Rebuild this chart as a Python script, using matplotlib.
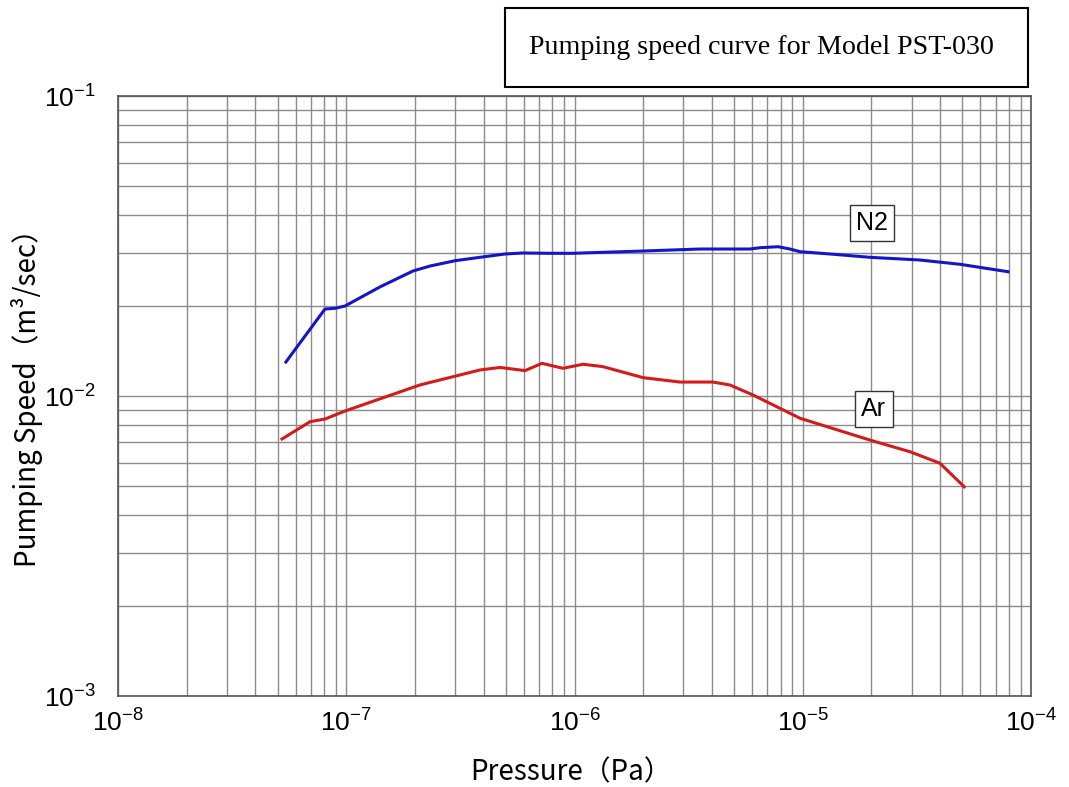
import matplotlib
matplotlib.use('Agg')
import matplotlib.pyplot as plt
from matplotlib.ticker import LogLocator, NullFormatter
from matplotlib.patches import Rectangle

plt.rcParams['font.family'] = ['Liberation Sans', 'Noto Sans CJK JP', 'DejaVu Sans']
plt.rcParams['mathtext.fontset'] = 'custom'
plt.rcParams['mathtext.rm'] = 'Liberation Sans'

# N2 curve
n2_pressure = [5.44e-8, 8.07e-8, 8.93e-8, 9.87e-8, 1.41e-7, 1.96e-7, 2.33e-7, 3.00e-7,
               3.85e-7, 4.96e-7, 5.95e-7, 7.81e-7, 9.85e-7, 2.00e-6, 3.55e-6, 5.87e-6,
               6.50e-6, 7.79e-6, 8.79e-6, 9.73e-6, 1.32e-5, 1.97e-5, 3.26e-5, 4.89e-5, 7.93e-5]
n2_speed = [0.01298, 0.0195, 0.0196, 0.01995, 0.02313, 0.0261, 0.02712, 0.02825,
            0.02899, 0.02974, 0.02997, 0.0299, 0.0299, 0.03043, 0.0309, 0.0309,
            0.03121, 0.03145, 0.0309, 0.03027, 0.02974, 0.02899, 0.0284, 0.02748, 0.02596]

# Ar curve
ar_pressure = [5.23e-8, 6.94e-8, 8.07e-8, 9.87e-8, 2.10e-7, 3.85e-7, 4.72e-7, 6.07e-7,
               7.20e-7, 8.90e-7, 1.09e-6, 1.33e-6, 2.00e-6, 2.90e-6, 4.04e-6, 4.80e-6,
               6.05e-6, 9.73e-6, 1.97e-5, 2.95e-5, 3.99e-5, 5.1e-5]
ar_speed = [0.00719, 0.00821, 0.00838, 0.00891, 0.01088, 0.01221, 0.01245, 0.01215,
            0.01285, 0.01237, 0.01276, 0.01253, 0.01151, 0.01113, 0.01113, 0.01088,
            0.01008, 0.00843, 0.00713, 0.00652, 0.00597, 0.00498]

title = 'Pumping speed curve for Model PST-030'

fig = plt.figure(figsize=(10.69, 7.87), dpi=100)
ax = fig.add_axes([118/1069, 1-696/787, (1031-118)/1069, (696-96)/787])

ax.plot(n2_pressure, n2_speed, color='#1414c8', lw=2.2, solid_joinstyle='round')
ax.plot(ar_pressure, ar_speed, color='#d41a1a', lw=2.2, solid_joinstyle='round')

ax.set_xscale('log')
ax.set_yscale('log')
ax.set_xlim(1e-8, 1e-4)
ax.set_ylim(1e-3, 1e-1)
ax.xaxis.set_major_locator(LogLocator(base=10, numticks=10))
ax.yaxis.set_major_locator(LogLocator(base=10, numticks=10))
ax.xaxis.set_minor_locator(LogLocator(base=10, subs=range(2, 10), numticks=20))
ax.yaxis.set_minor_locator(LogLocator(base=10, subs=range(2, 10), numticks=20))
ax.xaxis.set_minor_formatter(NullFormatter())
ax.yaxis.set_minor_formatter(NullFormatter())
ax.grid(True, which='both', color='#8c8c8c', lw=1.0)
ax.tick_params(which='both', length=0, labelsize=19)
ax.tick_params(axis='x', pad=10)
ax.tick_params(axis='y', pad=16)
for s in ax.spines.values():
    s.set_color('#555555')
    s.set_linewidth(1.2)

ax.set_xlabel('Pressure（Pa）', fontsize=20, family=['Noto Sans CJK JP'])
ax.set_ylabel('Pumping Speed（m³/sec）', fontsize=20, family=['Noto Sans CJK JP'],
              va='center')
ax.xaxis.set_label_coords(0.496, -0.103)
ax.yaxis.set_label_coords(-0.0997, 0.508)

# curve labels in boxes
ax.text(2.01e-5, 0.0344, 'N2', fontsize=18, ha='center', va='bottom',
        bbox=dict(boxstyle='square,pad=0.25', fc='white', ec='#333333', lw=1))
ax.text(2.05e-5, 0.00825, 'Ar', fontsize=18, ha='center', va='bottom',
        bbox=dict(boxstyle='square,pad=0.25', fc='white', ec='#333333', lw=1))

# title box at the top
fig.patches.append(Rectangle((505/1069, 1-87/787), 523/1069, 79/787,
                             transform=fig.transFigure, fill=False, ec='black', lw=1.5))
fig.text(761/1069, 1-48/787, title, ha='center', va='center', fontsize=20.2,
         family='Liberation Serif')

fig.savefig('out.png', dpi=100)
